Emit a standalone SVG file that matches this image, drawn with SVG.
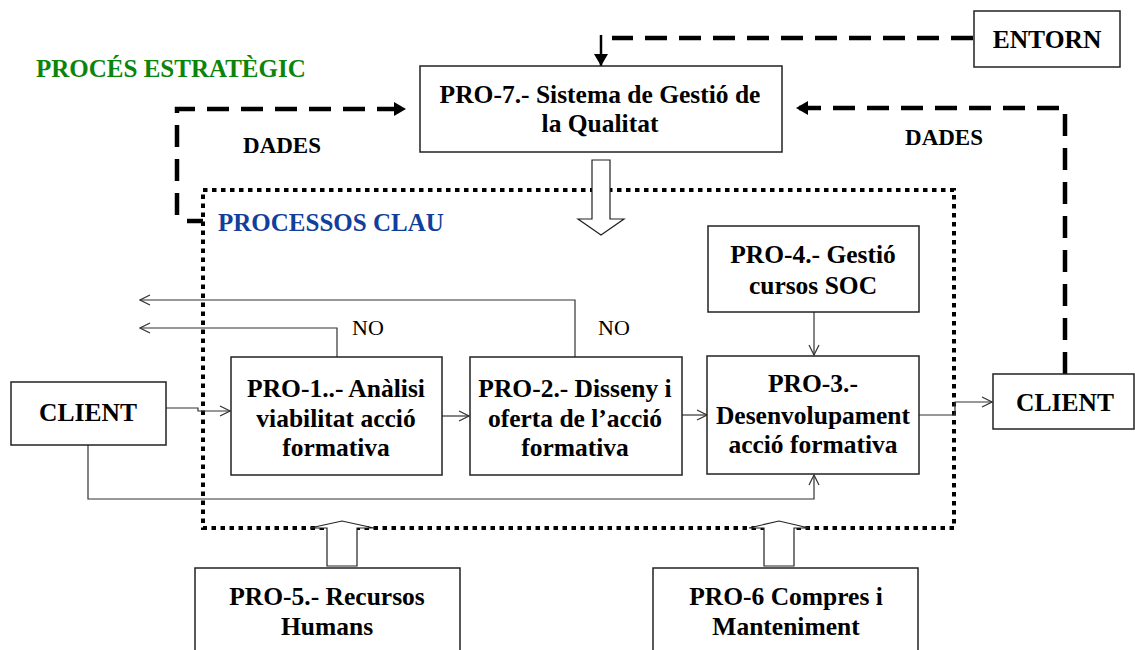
<svg xmlns="http://www.w3.org/2000/svg" width="1135" height="650" viewBox="0 0 1135 650">
<style>
.box{fill:#fff;stroke:#222;stroke-width:1.5}
.t{font-family:"Liberation Serif","Times New Roman",serif;font-weight:bold;font-size:25.5px;fill:#000;text-anchor:middle}
.no{font-family:"Liberation Serif","Times New Roman",serif;font-size:22px;fill:#000}
.thin{fill:none;stroke:#333;stroke-width:1.2}
.dash{fill:none;stroke:#000;stroke-width:4.5;stroke-dasharray:22 12}
.hollow{fill:#fff;stroke:#222;stroke-width:1.2}
</style>
<defs>
<marker id="open" viewBox="0 0 12 12" refX="11" refY="6" markerWidth="12" markerHeight="12" markerUnits="userSpaceOnUse" orient="auto">
<path d="M1,1 L11,6 L1,11" fill="none" stroke="#333" stroke-width="1.2"/>
</marker>
<marker id="solid" viewBox="0 0 12 14" refX="12" refY="7" markerWidth="12" markerHeight="14" markerUnits="userSpaceOnUse" orient="auto">
<path d="M0,0 L12,7 L0,14 Z" fill="#000"/>
</marker>
</defs>

<text x="36" y="77" style="font-family:'Liberation Serif',serif;font-weight:bold;font-size:25px;fill:#0a850a">PROCÉS ESTRATÈGIC</text>

<g id="processos-clau">
<rect x="203" y="190" width="751" height="338" fill="none" stroke="#000" stroke-width="4" stroke-dasharray="4.5 4.5"/>
<text x="218" y="231" style="font-family:'Liberation Serif',serif;font-weight:bold;font-size:25px;fill:#123f9c">PROCESSOS CLAU</text>
</g>

<g id="connectors">
<path class="dash" d="M203,221 H187"/>
<path class="dash" d="M177,215 V109 H406" marker-end="url(#solid)"/>
<path class="dash" d="M1065,374 V108 H796" marker-end="url(#solid)"/>
<path class="dash" d="M973,38 H612"/>
<path d="M601,35 V66" fill="none" stroke="#000" stroke-width="2.5" marker-end="url(#solid)"/>
<polygon class="hollow" points="592,160 610,160 610,219 624,219 601,235 578,219 592,219"/>
<polygon class="hollow" points="327,566 357,566 357,528 374,528 342,521 310,528 327,528"/>
<polygon class="hollow" points="764,566 794,566 794,528 809,528 779,521 749,528 764,528"/>
<path class="thin" d="M575,357 V300 H140" marker-end="url(#open)"/>
<path class="thin" d="M337,357 V328 H140" marker-end="url(#open)"/>
<path class="thin" d="M166,408 H198 V411 H230" marker-end="url(#open)"/>
<path class="thin" d="M442,416 H469" marker-end="url(#open)"/>
<path class="thin" d="M682,415 H707" marker-end="url(#open)"/>
<path class="thin" d="M814,312 V355" marker-end="url(#open)"/>
<path class="thin" d="M88,445 V499 H814 V475" marker-end="url(#open)"/>
<path class="thin" d="M919,415 H955 V402 H992" marker-end="url(#open)"/>
<text class="no" x="352" y="335">NO</text>
<text class="no" x="598" y="335">NO</text>
<text class="t" x="282" y="153" style="font-size:23px">DADES</text>
<text class="t" x="944" y="145" style="font-size:23px">DADES</text>
</g>

<g id="entorn">
<rect class="box" x="974" y="11" width="146" height="56"/>
<text class="t" x="1047" y="48">ENTORN</text>
</g>

<g id="pro7">
<rect class="box" x="420" y="66" width="362" height="86"/>
<text class="t" x="600" y="103">PRO-7.- Sistema de Gestió de</text>
<text class="t" x="600" y="132">la Qualitat</text>
</g>

<g id="pro4">
<rect class="box" x="708" y="226" width="211" height="86"/>
<text class="t" x="813" y="263">PRO-4.- Gestió</text>
<text class="t" x="813" y="294">cursos SOC</text>
</g>

<g id="client-left">
<rect class="box" x="11" y="382" width="155" height="63"/>
<text class="t" x="88" y="421">CLIENT</text>
</g>

<g id="pro1">
<rect class="box" x="231" y="357" width="211" height="118"/>
<text class="t" x="336" y="397">PRO-1..- Anàlisi</text>
<text class="t" x="336" y="427">viabilitat acció</text>
<text class="t" x="336" y="456">formativa</text>
</g>

<g id="pro2">
<rect class="box" x="470" y="357" width="212" height="118"/>
<text class="t" x="575" y="397">PRO-2.- Disseny i</text>
<text class="t" x="575" y="427">oferta de l’acció</text>
<text class="t" x="575" y="456">formativa</text>
</g>

<g id="pro3">
<rect class="box" x="707" y="356" width="212" height="118"/>
<text class="t" x="813" y="392">PRO-3.-</text>
<text class="t" x="813" y="424">Desenvolupament</text>
<text class="t" x="813" y="453">acció formativa</text>
</g>

<g id="client-right">
<rect class="box" x="993" y="374" width="141" height="55"/>
<text class="t" x="1065" y="411">CLIENT</text>
</g>

<g id="pro5">
<rect class="box" x="195" y="568" width="265" height="90"/>
<text class="t" x="327" y="605">PRO-5.- Recursos</text>
<text class="t" x="327" y="635">Humans</text>
</g>

<g id="pro6">
<rect class="box" x="653" y="568" width="265" height="90"/>
<text class="t" x="786" y="605">PRO-6 Compres i</text>
<text class="t" x="786" y="635">Manteniment</text>
</g>
</svg>
